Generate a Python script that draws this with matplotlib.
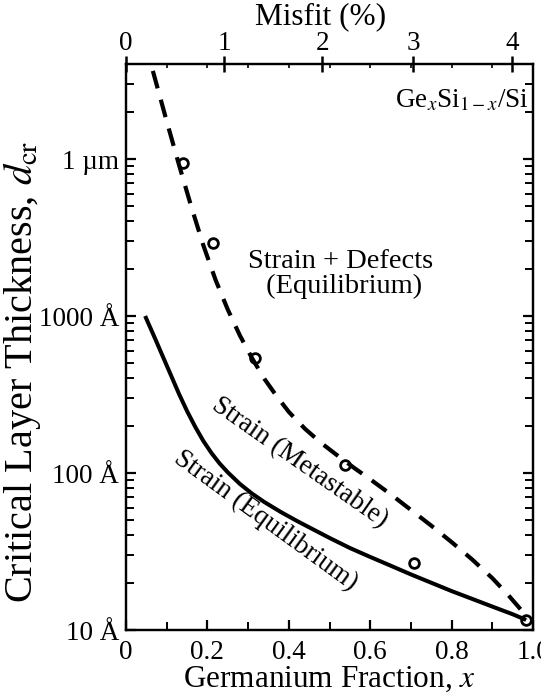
import matplotlib
matplotlib.use("Agg")
import matplotlib.pyplot as plt
from matplotlib.ticker import FixedLocator, NullFormatter, LogLocator

plt.rcParams['font.family'] = ['Liberation Serif', 'DejaVu Serif']
plt.rcParams['mathtext.fontset'] = 'stix'
plt.rcParams['lines.scale_dashes'] = False

# Equilibrium critical thickness (strain only), Angstrom
x_equil = [0.047, 0.07, 0.09, 0.11, 0.13, 0.15, 0.17, 0.19, 0.21, 0.23,
           0.25, 0.28, 0.31, 0.34, 0.38, 0.42, 0.46, 0.50, 0.55, 0.60,
           0.65, 0.70, 0.75, 0.80, 0.85, 0.90, 0.95, 0.983]
d_equil = [1000, 733, 556, 422, 320, 248, 197, 160, 134, 115,
           101, 85.1, 73.8, 65.3, 56.5, 49.5, 43.7, 38.6, 33.3, 29.2,
           25.7, 22.6, 20.0, 17.7, 15.8, 14.1, 12.6, 11.6]

# Metastable critical thickness, Angstrom
x_meta = [0.066, 0.10, 0.13, 0.16, 0.19, 0.22, 0.25, 0.28, 0.31, 0.34,
          0.37, 0.40, 0.44, 0.48, 0.52, 0.56, 0.60, 0.65, 0.70, 0.75,
          0.80, 0.85, 0.90, 0.94, 0.97, 0.983]
d_meta = [36400, 17400, 9230, 5010, 2820, 1700, 1100, 750, 537, 398,
          309, 245, 191, 155, 129, 108, 91.2, 73.3, 58.2, 46.2,
          36.3, 28.2, 21.4, 16.6, 13.5, 11.6]

# Measured critical thicknesses, Angstrom
x_meas = [0.141, 0.213, 0.317, 0.538, 0.708, 0.983]
d_meas = [9400, 2930, 542, 112, 26.8, 11.6]

# Axis ticks
x_ticks = [0, 0.2, 0.4, 0.6, 0.8, 1.0]
x_tick_labels = ['0', '0.2', '0.4', '0.6', '0.8', '1.0']
y_ticks = [10, 100, 1000, 10000]
y_tick_labels = ['10 Å', '100 Å', '1000 Å', '1 µm']
misfit_labels = ['0', '1', '2', '3', '4']
misfit_x = [0, 0.242, 0.482, 0.706, 0.948]

fig = plt.figure(figsize=(5.41, 7.0), dpi=100)
ax = fig.add_axes([126 / 541, 0.1, (533 - 126) / 541, 0.8086])

ax.plot(x_equil, d_equil, color='black', lw=2.9, solid_capstyle='butt',
        solid_joinstyle='round')
ax.plot(x_meta, d_meta, color='black', lw=3.0, dashes=(13, 8.5),
        dash_capstyle='butt', dash_joinstyle='round')
ax.plot(x_meas, d_meas, 'o', ms=7, mfc='none', mec='black', mew=2.0)

ax.set_yscale('log')
ax.set_xlim(0, 1.0)
ax.set_ylim(10, 4.03e4)

for s in ax.spines.values():
    s.set_linewidth(1.6)

ax.xaxis.set_major_locator(FixedLocator(x_ticks))
ax.set_xticklabels(x_tick_labels)
ax.xaxis.set_minor_locator(FixedLocator([0.1, 0.3, 0.5, 0.7, 0.9]))
ax.yaxis.set_major_locator(FixedLocator(y_ticks))
ax.set_yticklabels(y_tick_labels)
ax.yaxis.set_minor_locator(LogLocator(base=10, subs=range(2, 10)))
ax.yaxis.set_minor_formatter(NullFormatter())

ax.tick_params(axis='both', which='major', direction='in', length=7,
               width=1.6, labelsize=19.5, pad=5)
ax.tick_params(axis='both', which='minor', direction='in', length=6,
               width=1.4)
ax.tick_params(axis='y', which='both', right=True)
ax.tick_params(axis='x', which='major', pad=7)

ax.set_xlabel(r'Germanium Fraction, $x$', fontsize=22.5, labelpad=0)
ax.set_ylabel(r'Critical Layer Thickness, $d_{\rm cr}$', fontsize=29,
              va='center')
ax.yaxis.set_label_coords(-0.2555, 0.456)

# Misfit scale along the top
top = ax.twiny()
top.set_xlim(ax.get_xlim())
top.xaxis.set_major_locator(FixedLocator(misfit_x))
top.set_xticklabels(misfit_labels)
top.xaxis.set_minor_locator(FixedLocator([0.1, 0.2, 0.3, 0.4, 0.5, 0.6,
                                          0.7, 0.8, 0.9]))
top.tick_params(axis='x', which='major', direction='inout', length=12,
                width=1.8, labelsize=19.5, pad=0)
top.tick_params(axis='x', which='minor', direction='in', length=3,
                width=1.2)
top.set_xlabel('Misfit (%)', fontsize=22.5, va='center')
top.xaxis.set_label_coords(0.479, 1.083)
for s in top.spines.values():
    s.set_linewidth(1.6)

ax.text(0.826, 0.936, r'Ge$_x$Si$_{1-x}$/Si', transform=ax.transAxes,
        ha='center', va='center', fontsize=19.5)
ax.text(0.526, 0.629, 'Strain + Defects\n (Equilibrium)',
        transform=ax.transAxes, ha='center', va='center', fontsize=20.5,
        linespacing=1.0)
ax.text(0.427, 117, 'Strain (Metastable)', ha='center', va='center',
        rotation=-35, rotation_mode='anchor', fontsize=19.5)
ax.text(0.344, 49.4, 'Strain (Equilibrium)', ha='center', va='center',
        rotation=-36, rotation_mode='anchor', fontsize=19.5)

fig.savefig('out.png', dpi=100)
